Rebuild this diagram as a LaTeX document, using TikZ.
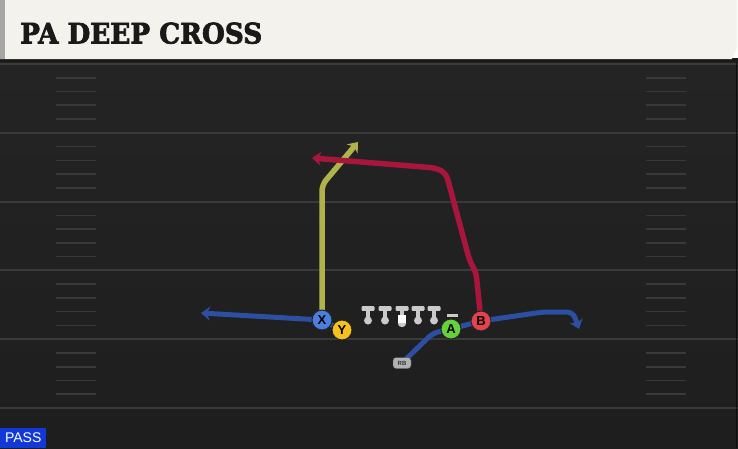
\documentclass[tikz,border=0pt]{standalone}
\usepackage{fontspec}
\usetikzlibrary{arrows.meta}
\newfontfamily\titlefont{DejaVu Serif}[BoldFeatures={FakeBold=2.5}]
\newfontfamily\labelfont{Liberation Sans}
\definecolor{fieldbg}{HTML}{242424}
\definecolor{fieldbot}{HTML}{1E1E1E}
\definecolor{yardline}{HTML}{3A3A3A}
\definecolor{hashc}{HTML}{393939}
\definecolor{headbg}{HTML}{F4F2EC}
\definecolor{yroute}{HTML}{B0B34B}
\definecolor{rroute}{HTML}{A9163B}
\definecolor{broute}{HTML}{2C4FA3}
\definecolor{xfill}{HTML}{4A7EDF}
\definecolor{yfill}{HTML}{F5C21D}
\definecolor{afill}{HTML}{66D23B}
\definecolor{bfill}{HTML}{E5434B}
\definecolor{linegrey}{HTML}{CACACA}
\definecolor{passblue}{HTML}{1238D8}
\pgfdeclarelayer{bg}
\pgfdeclarelayer{routes}
\pgfsetlayers{bg,routes,main}
\tikzset{
  player/.style={circle, minimum size=20pt, inner sep=0pt, draw=black!85, line width=1pt,
    font=\labelfont\bfseries\fontsize{13}{13}\selectfont, text=black},
  route/.style={line width=5.5pt, rounded corners=6pt, line join=round,
    -{Stealth[length=9pt,width=14pt,inset=3pt]}},
  plainroute/.style={line width=5pt, rounded corners=6pt, line join=round},
  hashmark/.style={draw=hashc, line width=1.6pt},
  ydline/.style={draw=yardline, line width=2pt},
}
\begin{document}
\begin{tikzpicture}[x=1pt,y=-1pt]
\useasboundingbox (0,0) rectangle (738,448);
% ---------- field ----------
\begin{pgfonlayer}{bg}
\shade[top color=fieldbg, bottom color=fieldbot] (0,59) rectangle (738,448);
\foreach \k in {0,...,5}{
  \pgfmathsetmacro{\yy}{64+68.8*\k}
  \draw[ydline] (0,\yy) -- (738,\yy);
}
\foreach \k in {0,...,4}{
  \foreach \j in {1,...,4}{
    \pgfmathsetmacro{\yy}{64+68.8*\k+13.76*\j}
    \draw[hashmark] (56,\yy) -- (96,\yy);
    \draw[hashmark] (646,\yy) -- (686,\yy);
  }
}
\draw[draw=black!60!fieldbg, line width=1pt] (736.5,60) -- (736.5,448);
% header
\fill[black!90] (0,58) rectangle (738,62);
\fill[headbg] (0,0) -- (737,0) -- (737,48) -- (732,59) -- (0,59) -- cycle;
\fill[black!35] (0,0) rectangle (5,59);
\end{pgfonlayer}
\node[anchor=base west, inner sep=0pt, text=black!90] (title) at (20,43.5)
  {\resizebox{242pt}{21pt}{\titlefont\bfseries PA DEEP CROSS}};
% ---------- players ----------
\node[player, fill=xfill] (X) at (322,320) {X};
\node[player, fill=yfill] (Y) at (342,330) {Y};
\node[player, fill=afill] (A) at (451,329) {A};
\node[player, fill=bfill] (B) at (481,321) {B};
\node[draw=black!70, fill=black!30, rounded corners=3pt, minimum width=18pt, minimum height=11pt,
  inner sep=0pt, font=\labelfont\bfseries\fontsize{6}{6}\selectfont, text=black!80] (RB) at (402,363) {RB};
% linemen
\foreach \x/\n in {368/lt,385/lg,418/rg,434/rt}{
  \fill[linegrey, rounded corners=1pt] (\x-6.5,306) rectangle (\x+6.5,310.8);
  \fill[linegrey] (\x-2.4,310) rectangle (\x+2.4,319);
  \fill[linegrey] (\x,320.5) circle (4);
}
\fill[linegrey, rounded corners=1pt] (395.5,306) rectangle (408.5,310.8);
\fill[linegrey] (399.6,310) rectangle (404.4,315);
\fill[linegrey] (402,323) circle (4.2);
\fill[white] (397.6,314.5) rectangle (406.4,323.2);
\fill[linegrey] (447,314.2) rectangle (458,317.2);
% ---------- routes ----------
\begin{pgfonlayer}{routes}
\coordinate (ytop) at (322,185);
\coordinate (yend) at (358,142);
\draw[route, draw=yroute] (X.center) -- (ytop) -- (yend);
\coordinate (r1) at (476,272);
\coordinate (r2) at (470,262);
\coordinate (r3) at (446,173);
\coordinate (r4) at (436,168);
\coordinate (rend) at (312,158);
\draw[route, draw=rroute] (B.center) -- (r1) -- (r2) -- (r3) -- (r4) -- (rend);
\coordinate (lend) at (201,313);
\draw[route, draw=broute, line width=5pt] (Y.center) -- (X.center) -- (lend);
\coordinate (b1) at (433,333);
\coordinate (b2) at (543,312);
\coordinate (b3) at (573,312);
\coordinate (bend) at (579,329);
\draw[plainroute, draw=broute] (RB.center) -- (b1) -- (A.center);
\draw[route, draw=broute, line width=5pt] (A.center) -- (B.center) -- (b2) -- (b3) -- (bend);
\end{pgfonlayer}
% PASS label
\node[anchor=south west, fill=passblue, minimum width=46pt, minimum height=20pt, inner sep=0pt,
  text=white, font=\labelfont\fontsize{14}{14}\selectfont] (pass) at (0,448) {PASS};
\end{tikzpicture}
\end{document}
